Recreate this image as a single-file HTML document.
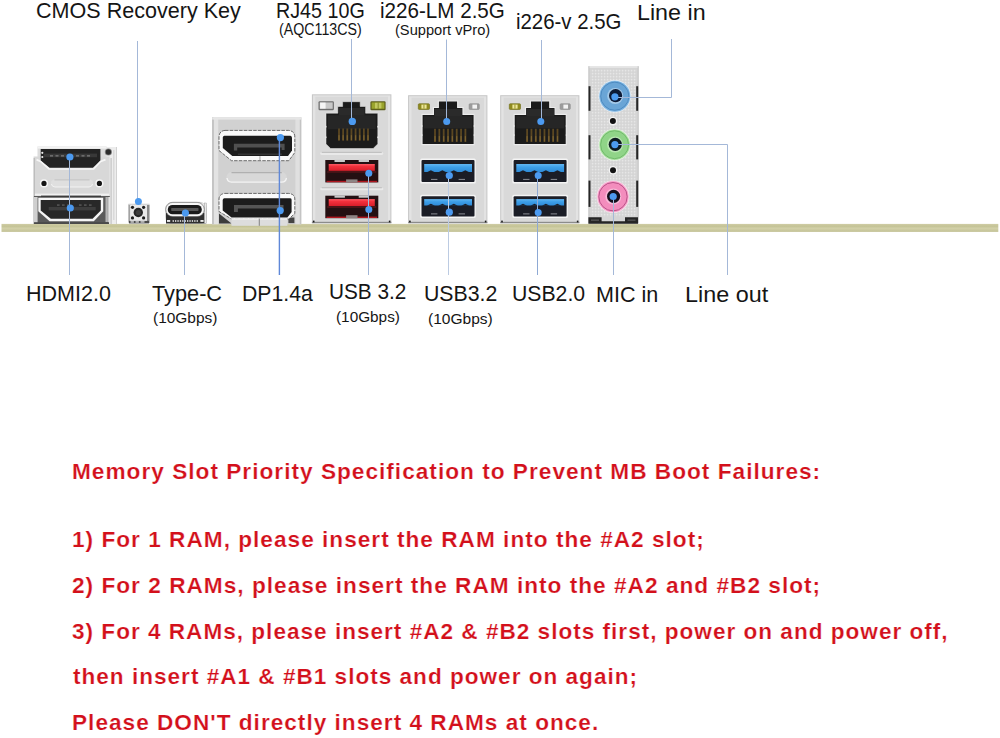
<!DOCTYPE html>
<html>
<head>
<meta charset="utf-8">
<title>IO panel</title>
<style>
html,body{margin:0;padding:0;background:#fff;}
body{width:1000px;height:738px;position:relative;overflow:hidden;font-family:"Liberation Sans",sans-serif;color:#151515;}
.t{position:absolute;white-space:nowrap;line-height:1;transform-origin:0 0;}
svg{position:absolute;left:0;top:0;}
</style>
</head>
<body>
<svg id="gfx" width="1000" height="738" viewBox="0 0 1000 738">
<defs>
<linearGradient id="pcb" x1="0" y1="0" x2="0" y2="1">
<stop offset="0" stop-color="#d0cda5"/><stop offset="0.3" stop-color="#c4c396"/><stop offset="0.55" stop-color="#d2d0a8"/><stop offset="1" stop-color="#c3c296"/>
</linearGradient>
<linearGradient id="shell" x1="0" y1="0" x2="1" y2="0">
<stop offset="0" stop-color="#b9b9b9"/><stop offset="0.04" stop-color="#dcdcdc"/><stop offset="0.95" stop-color="#dedede"/><stop offset="1" stop-color="#bdbdbd"/>
</linearGradient>
<linearGradient id="redt" x1="0" y1="0" x2="0" y2="1">
<stop offset="0" stop-color="#ff5a64"/><stop offset="0.35" stop-color="#f2303c"/><stop offset="1" stop-color="#d81e2a"/>
</linearGradient>
<linearGradient id="bluet" x1="0" y1="0" x2="0" y2="1">
<stop offset="0" stop-color="#62b6f2"/><stop offset="0.4" stop-color="#3d9fe8"/><stop offset="1" stop-color="#2f8bd8"/>
</linearGradient>
<pattern id="dots" x="0" y="0" width="3" height="3" patternUnits="userSpaceOnUse">
<rect width="3" height="3" fill="#d5d5d5"/><rect x="0.8" y="0.8" width="1.6" height="1.6" rx="0.5" fill="#e6e6e6"/>
</pattern>
</defs>
<!-- PCB strip -->
<rect x="1.5" y="223.9" width="996.8" height="8" fill="url(#pcb)"/>
<!--HDMI-->
<g id="hdmi">
<!-- side panel -->
<rect x="106" y="147" width="10.8" height="77" fill="#ededed"/>
<rect x="110.5" y="158" width="1.2" height="66" fill="#c4c4c4"/>
<rect x="113" y="150" width="1.5" height="70" fill="#d9d9d9"/>
<rect x="116" y="147" width="0.9" height="77" fill="#cfcfcf"/>
<!-- main body -->
<rect x="37.5" y="146.4" width="69" height="13" fill="#dcdcdc"/>
<rect x="33.6" y="156.5" width="76" height="67.5" fill="#d8d8d8"/>
<rect x="37.5" y="146.4" width="69" height="2.2" fill="#f3f3f3"/>
<rect x="33.6" y="158" width="1.4" height="38" fill="#bdbdbd"/>
<!-- lower dark region -->
<rect x="33.8" y="196" width="76" height="28" fill="#5a5a5a"/>
<rect x="34" y="197" width="3.6" height="27" fill="#cfcfcf"/>
<rect x="105.5" y="197" width="2.4" height="25" fill="#b5b5b5"/>
<rect x="108.2" y="197" width="1.8" height="27" fill="#e4e4e4"/>
<!-- top port -->
<path d="M40.7 149 L100.4 149 L100.4 160.8 L92.9 167.8 L49.6 167.8 L40.7 160.8 Z" fill="#232323"/>
<rect x="44" y="153.6" width="53" height="3.6" fill="#383838"/>
<g fill="#8e8e8e"><rect x="50" y="155.4" width="3" height="1"/><rect x="55.5" y="155.4" width="3" height="1"/><rect x="61" y="155.4" width="3" height="1"/><rect x="76" y="155.4" width="3" height="1"/><rect x="81.5" y="155.4" width="3" height="1"/><rect x="87" y="155.4" width="3" height="1"/></g>
<circle cx="42.3" cy="152.8" r="1.1" fill="#efefef"/><circle cx="42.3" cy="157" r="1.1" fill="#efefef"/>
<path d="M36.5 159.6 L40.6 161.4 L49 169 L93.6 169 L100.6 161.4 L105.5 159.6" fill="none" stroke="#f6f6f6" stroke-width="1.7"/>
<!-- mid plate -->
<rect x="51" y="179.6" width="42" height="7.5" rx="3.75" fill="#dfdfdf"/>
<path d="M54.5 179.9 L89.5 179.9" stroke="#bdbdbd" stroke-width="0.9" fill="none"/>
<path d="M51.4 184 Q52 186.9 55 187 L89 187 Q92 186.9 92.6 184" stroke="#f2f2f2" stroke-width="1" fill="none"/>
<circle cx="44" cy="183.4" r="4.1" fill="#f5f5f5"/><circle cx="44" cy="183.4" r="2.6" fill="#141414"/>
<circle cx="99.4" cy="183.4" r="4.1" fill="#f5f5f5"/><circle cx="99.4" cy="183.4" r="2.6" fill="#141414"/>
<rect x="35" y="193.6" width="74" height="2" fill="#f1f1f1"/>
<rect x="41" y="195.6" width="60" height="1.6" fill="#3c3c3c"/>
<!-- bottom port -->
<path d="M38.3 197.7 L103.2 197.7 L103.2 211.3 L93.8 221.2 L49.6 221.2 L38.3 211.3 Z" fill="#f6f6f6"/>
<path d="M40.7 200 L100.8 200 L100.8 210.4 L92.6 218.8 L50.8 218.8 L40.7 210.4 Z" fill="#282828"/>
<rect x="48.7" y="207" width="47" height="3.4" fill="#3d3d3d"/>
<g fill="#777"><rect x="57" y="204.6" width="2.6" height="0.9"/><rect x="62" y="204.6" width="2.6" height="0.9"/><rect x="67" y="204.6" width="2.6" height="0.9"/><rect x="79" y="204.6" width="2.6" height="0.9"/><rect x="84" y="204.6" width="2.6" height="0.9"/><rect x="89" y="204.6" width="2.6" height="0.9"/></g>
<rect x="34" y="222.2" width="75" height="1.8" fill="#4a4a4a"/>
<circle cx="108.4" cy="152" r="3.6" fill="#8a8a8a"/><circle cx="108.4" cy="152" r="2.7" fill="#2c2c2c"/>
</g>
<!--BUTTON-->
<g id="btn">
<rect x="128.4" y="203.8" width="21.1" height="19.6" fill="#e9e9e9"/>
<rect x="128.4" y="204.5" width="1.7" height="18" fill="#a2a2a2"/>
<rect x="147" y="205" width="2.5" height="18" fill="#8a8a8a"/>
<rect x="128.4" y="203.8" width="21.1" height="1" fill="#d2d2d2"/>
<rect x="129" y="220.9" width="20" height="2.5" fill="#4a4a4a"/>
<rect x="130.5" y="221.3" width="3.4" height="1.3" fill="#e2e2e2"/><rect x="135.5" y="221.3" width="3.4" height="1.3" fill="#e2e2e2"/><rect x="140.5" y="221.3" width="4" height="1.3" fill="#e2e2e2"/>
<circle cx="132.5" cy="207.3" r="1.6" fill="#1c1c1c"/><circle cx="143.6" cy="207.3" r="1.6" fill="#1c1c1c"/>
<circle cx="132.5" cy="217.9" r="1.6" fill="#1c1c1c"/><circle cx="143.6" cy="217.9" r="1.6" fill="#1c1c1c"/>
<circle cx="138.3" cy="212.5" r="4.7" fill="#262626"/>
<circle cx="138.3" cy="212.5" r="2.6" fill="#3d3d3d"/>
</g>
<!--TYPEC-->
<g id="typec">
<rect x="165.6" y="202.3" width="40.6" height="21.2" rx="6.5" fill="#efefef" stroke="#bdbdbd" stroke-width="0.6"/>
<path d="M166 213 L166 223.6 L205.6 223.6 L205.6 213 Z" fill="#2f2f2f"/>
<rect x="204.3" y="203" width="2.2" height="20.6" fill="#e9e9e9" stroke="#8a8a8a" stroke-width="0.4"/>
<rect x="165.7" y="202.4" width="38.6" height="14.2" rx="7.1" fill="#f7f7f7" stroke="#5c5c5c" stroke-width="0.6"/>
<rect x="167.8" y="205" width="34" height="9.3" rx="4.6" fill="#1a1a1a"/>
<rect x="171.2" y="208" width="27.3" height="2.9" rx="0.6" fill="#565656"/>
<g fill="#ececec"><rect x="167" y="220" width="3.2" height="1.9"/><rect x="172.6" y="220.2" width="1.3" height="1.6"/><rect x="175" y="220.2" width="1.3" height="1.6"/><rect x="177.4" y="220.2" width="1.3" height="1.6"/><rect x="179.8" y="220.2" width="1.3" height="1.6"/><rect x="182.2" y="220.2" width="1.3" height="1.6"/><rect x="184.6" y="220.2" width="1.3" height="1.6"/><rect x="187" y="220.2" width="1.3" height="1.6"/><rect x="189.4" y="220.2" width="1.3" height="1.6"/><rect x="191.8" y="220.2" width="1.3" height="1.6"/><rect x="194.2" y="220.2" width="1.3" height="1.6"/><rect x="196.6" y="220.2" width="1.3" height="1.6"/><rect x="200.4" y="220" width="3.2" height="1.9"/></g>
</g>
<g id="dp">
<rect x="212.2" y="117.2" width="89" height="107" fill="#d1d1d1"/>
<rect x="212.2" y="117.2" width="6" height="107" fill="#e3e3e3"/>
<rect x="212.2" y="117.2" width="1.6" height="107" fill="#bdbdbd"/>
<rect x="295.4" y="117.2" width="5.8" height="107" fill="#e0e0e0"/>
<rect x="299.8" y="117.2" width="1.4" height="107" fill="#c4c4c4"/>
<rect x="212.2" y="117.2" width="89" height="2.4" fill="#e6e6e6"/>
<!-- top port -->
<path d="M225 130.4 L288.5 130.4 Q294.8 131 294.8 137 L294.8 152.5 L288.8 160.7 L231.5 160.7 L219 150.5 L219 137 Q219.3 130.8 225 130.4 Z" fill="#fafafa" stroke="#4a4a4a" stroke-width="0.8" stroke-dasharray="3.5 1.2"/>
<path d="M224.3 135.8 L290.4 135.8 Q292 136 292 138 L292 150.5 L288 155.9 L232.3 155.9 L222.8 148 L222.8 137.6 Q223 136 224.3 135.8 Z" fill="#1c1c1c"/>
<path d="M233.9 143.7 L284.6 143.7 L284.6 150 L281.6 150 L281.6 147.4 L237.2 147.4 L237.2 150.6 L233.9 150.6 Z" fill="#505050"/>
<rect x="238" y="153.6" width="44" height="1.2" fill="#3a3a3a"/>
<rect x="259.5" y="156.2" width="0.9" height="4" fill="#9a9a9a"/>
<!-- middle slot -->
<rect x="226.5" y="172.3" width="60.3" height="10" rx="5" fill="#d8d8d8"/>
<path d="M231.5 172.6 L281.8 172.6" stroke="#b0b0b0" stroke-width="1.1" fill="none"/>
<path d="M227 178 Q227.5 182 231.5 182.1 L281.8 182.1 Q286 182 286.4 178" stroke="#f4f4f4" stroke-width="1.4" fill="none"/>
<!-- bottom port -->
<path d="M219 213.5 L231.5 223.4 L219 223.4 Z" fill="#3c3c3c"/>
<rect x="288.4" y="217.5" width="6" height="5.6" fill="#444"/>
<path d="M225 193.4 L288.5 193.4 Q294.8 194 294.8 199 L294.8 213.5 L288.8 219 L231.5 219 L219 211.5 L219 199 Q219.3 193.8 225 193.4 Z" fill="#fafafa" stroke="#4a4a4a" stroke-width="0.8" stroke-dasharray="3.5 1.2"/>
<path d="M224.3 198.2 L290.4 198.2 Q291.6 198.4 291.6 200 L291.6 212 L287.4 217.4 L231.5 217.4 L222.7 210.5 L222.7 200 Q223 198.4 224.3 198.2 Z" fill="#1c1c1c"/>
<path d="M234 205.1 L283.5 205.1 L283.5 210.5 L281 210.5 L281 208.5 L237.9 208.5 L237.9 212 L234 212 Z" fill="#555"/>
<rect x="231.5" y="218.4" width="55.9" height="7.4" fill="#dddddd"/>
<rect x="231.5" y="218.4" width="55.9" height="1.2" fill="#f4f4f4"/>
<rect x="258.8" y="218.6" width="0.9" height="7.2" fill="#777"/>
</g>

<g id="lan10">
<rect x="311.9" y="94.3" width="79.5" height="128.9" fill="#c6c6c6"/>
<rect x="312.9" y="95.3" width="77.5" height="127.9" fill="#e3e3e3"/>
<rect x="315.29999999999995" y="96.7" width="72.7" height="125.3" fill="#d9d9d9"/>
<rect x="311.9" y="221.8" width="79.5" height="1.4" fill="#8c8c8c"/>
<rect x="312.9" y="220.6" width="1.6" height="1.8" fill="#1a1a1a"/>
<rect x="388.8" y="220.6" width="1.6" height="1.8" fill="#1a1a1a"/>
<rect x="318.5" y="101.2" width="15.4" height="9" rx="1.2" fill="#6e6e6e"/>
<rect x="319.7" y="102.4" width="13.0" height="6.4" fill="#c9c9c9"/>
<rect x="320.1" y="102.60000000000001" width="5.5" height="6.0" fill="#f6f6f6"/>
<rect x="370.4" y="101.2" width="15.2" height="9" rx="1.2" fill="#5e5f1c" />
<rect x="371.6" y="102.4" width="12.8" height="6.4" fill="#9aa42c"/>
<rect x="375.0" y="102.8" width="6.4" height="5.6" fill="#c2c860"/>
<rect x="377.7" y="102.4" width="0.9" height="6.4" fill="#7d8422"/>
<path d="M326 113.2 L337.8 113.2 L337.8 106.5 L342.6 106.5 L342.6 101.7 L360.2 101.7 L360.2 106.5 L365.6 106.5 L365.6 113.2 L377.8 113.2 L377.8 143.9 L373.2 148.5 L330.6 148.5 L326 143.9 Z" fill="#1b1b1b" stroke="#ececec" stroke-width="0.5"/>
<rect x="338.8" y="108.0" width="25.8" height="12.7" fill="#2a2a2a"/>
<rect x="328" y="115.2" width="47.8" height="14.1" fill="#262626"/>
<rect x="325.2" y="125.9" width="1.3" height="1.6" fill="#e9e9e9"/>
<rect x="377.3" y="125.9" width="1.3" height="1.6" fill="#e9e9e9"/>
<rect x="325.2" y="136.5" width="1.3" height="1.6" fill="#e9e9e9"/>
<rect x="377.3" y="136.5" width="1.3" height="1.6" fill="#e9e9e9"/>
<rect x="338.10" y="128.5" width="1.8" height="12.2" fill="#5c4822"/>
<rect x="338.40" y="135.2" width="1.2" height="4.9" fill="#7a6230"/>
<rect x="342.24" y="128.5" width="1.8" height="12.2" fill="#5c4822"/>
<rect x="342.54" y="135.2" width="1.2" height="4.9" fill="#7a6230"/>
<rect x="346.39" y="128.5" width="1.8" height="12.2" fill="#5c4822"/>
<rect x="346.69" y="135.2" width="1.2" height="4.9" fill="#7a6230"/>
<rect x="350.53" y="128.5" width="1.8" height="12.2" fill="#5c4822"/>
<rect x="350.83" y="135.2" width="1.2" height="4.9" fill="#7a6230"/>
<rect x="354.67" y="128.5" width="1.8" height="12.2" fill="#5c4822"/>
<rect x="354.97" y="135.2" width="1.2" height="4.9" fill="#7a6230"/>
<rect x="358.81" y="128.5" width="1.8" height="12.2" fill="#5c4822"/>
<rect x="359.11" y="135.2" width="1.2" height="4.9" fill="#7a6230"/>
<rect x="362.96" y="128.5" width="1.8" height="12.2" fill="#5c4822"/>
<rect x="363.26" y="135.2" width="1.2" height="4.9" fill="#7a6230"/>
<rect x="367.10" y="128.5" width="1.8" height="12.2" fill="#5c4822"/>
<rect x="367.40" y="135.2" width="1.2" height="4.9" fill="#7a6230"/>
<rect x="320.2" y="152.2" width="63.1" height="2.7" rx="1.4" fill="#e9e9e9"/>
<rect x="321.7" y="151.89999999999998" width="60.1" height="0.8" fill="#b3b3b3"/>
<rect x="320.2" y="187.7" width="63.1" height="2.6" rx="1.3" fill="#e9e9e9"/>
<rect x="321.7" y="187.39999999999998" width="60.1" height="0.8" fill="#b3b3b3"/>
<rect x="325.3" y="160" width="53.0" height="22.4" fill="#241012"/>
<rect x="334.5" y="159.8" width="10.4" height="2.2" fill="#c9c9c9"/>
<rect x="358.7" y="159.8" width="10.3" height="2.2" fill="#c9c9c9"/>
<rect x="326.5" y="180.8" width="50.6" height="1.4" fill="#b01820"/>
<rect x="328.7" y="164" width="46.1" height="6.9" fill="url(#redt)"/>
<rect x="327.2" y="170.9" width="49.1" height="2" fill="#4a1518"/>
<rect x="346.1" y="179.4" width="11.4" height="3" fill="#8e8484"/>
<rect x="325.3" y="195.7" width="53.0" height="22.5" fill="#241012"/>
<rect x="334.5" y="195.5" width="10.4" height="2.2" fill="#c9c9c9"/>
<rect x="358.7" y="195.5" width="10.3" height="2.2" fill="#c9c9c9"/>
<rect x="326.5" y="216.6" width="50.6" height="1.4" fill="#b01820"/>
<rect x="328.7" y="199.1" width="46.1" height="6.9" fill="url(#redt)"/>
<rect x="327.2" y="206.0" width="49.1" height="2" fill="#4a1518"/>
<rect x="346.1" y="215.2" width="11.4" height="3" fill="#8e8484"/>
</g>
<g id="lan1">
<rect x="408.1" y="95.2" width="79.3" height="128.0" fill="#c6c6c6"/>
<rect x="409.1" y="96.2" width="77.3" height="127.0" fill="#e3e3e3"/>
<rect x="411.5" y="97.60000000000001" width="72.5" height="124.4" fill="#d9d9d9"/>
<rect x="408.1" y="221.8" width="79.3" height="1.4" fill="#8c8c8c"/>
<rect x="409.1" y="220.6" width="1.6" height="1.8" fill="#1a1a1a"/>
<rect x="484.8" y="220.6" width="1.6" height="1.8" fill="#1a1a1a"/>
<rect x="418.3" y="103.7" width="11.2" height="5.8" rx="1" fill="#8f8a1e" stroke="#6f6b18" stroke-width="0.6"/>
<rect x="421.4" y="104.60000000000001" width="5.2" height="4.0" fill="#ece79a"/>
<rect x="423.5" y="104.60000000000001" width="0.9" height="4.0" fill="#8f8a1e"/>
<rect x="469.1" y="103.7" width="10.2" height="5.8" rx="1" fill="#9c9c9c" stroke="#858585" stroke-width="0.5"/>
<rect x="472.4" y="104.60000000000001" width="4.6" height="4.0" fill="#f3f3f3"/>
<path d="M422 114.3 L433.4 114.3 L433.4 107.5 L438.3 107.5 L438.3 101 L457.7 101 L457.7 107.5 L463 107.5 L463 114.3 L474.2 114.3 L474.2 144.6 L474.2 144.6 L422 144.6 L422 144.6 Z" fill="#1b1b1b" stroke="#ececec" stroke-width="1.2"/>
<rect x="434.4" y="109.0" width="27.6" height="12.8" fill="#2a2a2a"/>
<rect x="424" y="116.3" width="48.2" height="12.1" fill="#262626"/>
<rect x="421.2" y="125.2" width="1.3" height="1.6" fill="#e9e9e9"/>
<rect x="473.7" y="125.2" width="1.3" height="1.6" fill="#e9e9e9"/>
<rect x="421.2" y="134.3" width="1.3" height="1.6" fill="#e9e9e9"/>
<rect x="473.7" y="134.3" width="1.3" height="1.6" fill="#e9e9e9"/>
<rect x="434.10" y="128.8" width="1.8" height="13.2" fill="#5c4822"/>
<rect x="434.40" y="136.1" width="1.2" height="5.3" fill="#7a6230"/>
<rect x="438.44" y="128.8" width="1.8" height="13.2" fill="#5c4822"/>
<rect x="438.74" y="136.1" width="1.2" height="5.3" fill="#7a6230"/>
<rect x="442.79" y="128.8" width="1.8" height="13.2" fill="#5c4822"/>
<rect x="443.09" y="136.1" width="1.2" height="5.3" fill="#7a6230"/>
<rect x="447.13" y="128.8" width="1.8" height="13.2" fill="#5c4822"/>
<rect x="447.43" y="136.1" width="1.2" height="5.3" fill="#7a6230"/>
<rect x="451.47" y="128.8" width="1.8" height="13.2" fill="#5c4822"/>
<rect x="451.77" y="136.1" width="1.2" height="5.3" fill="#7a6230"/>
<rect x="455.81" y="128.8" width="1.8" height="13.2" fill="#5c4822"/>
<rect x="456.11" y="136.1" width="1.2" height="5.3" fill="#7a6230"/>
<rect x="460.16" y="128.8" width="1.8" height="13.2" fill="#5c4822"/>
<rect x="460.46" y="136.1" width="1.2" height="5.3" fill="#7a6230"/>
<rect x="464.50" y="128.8" width="1.8" height="13.2" fill="#5c4822"/>
<rect x="464.80" y="136.1" width="1.2" height="5.3" fill="#7a6230"/>
<rect x="420.2" y="158.4" width="55.6" height="25.1" rx="1.6" fill="#f4f4f4"/>
<rect x="421.5" y="160" width="53.0" height="21.9" rx="1" fill="#1b1d26"/>
<rect x="424.2" y="164" width="47.8" height="8.0" fill="url(#bluet)"/>
<path d="M426.9 172.2 L430.9 170.2 L434.9 172.2 Z" fill="#1b1d26"/>
<path d="M438.4 172.2 L442.4 170.2 L446.4 172.2 Z" fill="#1b1d26"/>
<path d="M449.8 172.2 L453.8 170.2 L457.8 172.2 Z" fill="#1b1d26"/>
<path d="M461.3 172.2 L465.3 170.2 L469.3 172.2 Z" fill="#1b1d26"/>
<rect x="431.0" y="178.9" width="6.4" height="1" fill="#8b8d94"/>
<rect x="458.6" y="178.9" width="6.4" height="1" fill="#8b8d94"/>
<rect x="420.2" y="194.70000000000002" width="55.6" height="23.3" rx="1.6" fill="#f4f4f4"/>
<rect x="421.5" y="196.3" width="53.0" height="20.1" rx="1" fill="#1b1d26"/>
<rect x="424.2" y="199.1" width="47.8" height="6.4" fill="url(#bluet)"/>
<path d="M426.9 205.7 L430.9 203.7 L434.9 205.7 Z" fill="#1b1d26"/>
<path d="M438.4 205.7 L442.4 203.7 L446.4 205.7 Z" fill="#1b1d26"/>
<path d="M449.8 205.7 L453.8 203.7 L457.8 205.7 Z" fill="#1b1d26"/>
<path d="M461.3 205.7 L465.3 203.7 L469.3 205.7 Z" fill="#1b1d26"/>
<rect x="431.0" y="213.4" width="6.4" height="1" fill="#8b8d94"/>
<rect x="458.6" y="213.4" width="6.4" height="1" fill="#8b8d94"/>
</g>
<g id="lan2">
<rect x="500.2" y="95.2" width="79.2" height="128.0" fill="#c6c6c6"/>
<rect x="501.2" y="96.2" width="77.2" height="127.0" fill="#e3e3e3"/>
<rect x="503.59999999999997" y="97.60000000000001" width="72.4" height="124.4" fill="#d9d9d9"/>
<rect x="500.2" y="221.8" width="79.2" height="1.4" fill="#8c8c8c"/>
<rect x="501.2" y="220.6" width="1.6" height="1.8" fill="#1a1a1a"/>
<rect x="576.8" y="220.6" width="1.6" height="1.8" fill="#1a1a1a"/>
<rect x="509.3" y="103.7" width="11.2" height="5.8" rx="1" fill="#8f8a1e" stroke="#6f6b18" stroke-width="0.6"/>
<rect x="512.4" y="104.60000000000001" width="5.2" height="4.0" fill="#ece79a"/>
<rect x="514.5" y="104.60000000000001" width="0.9" height="4.0" fill="#8f8a1e"/>
<rect x="560.1" y="103.7" width="10.2" height="5.8" rx="1" fill="#9c9c9c" stroke="#858585" stroke-width="0.5"/>
<rect x="563.4" y="104.60000000000001" width="4.6" height="4.0" fill="#f3f3f3"/>
<path d="M514.1 114.3 L525.5 114.3 L525.5 107.5 L530.4 107.5 L530.4 101 L549.8 101 L549.8 107.5 L555.1 107.5 L555.1 114.3 L566.3 114.3 L566.3 144.6 L566.3 144.6 L514.1 144.6 L514.1 144.6 Z" fill="#1b1b1b" stroke="#ececec" stroke-width="1.2"/>
<rect x="526.5" y="109.0" width="27.6" height="12.8" fill="#2a2a2a"/>
<rect x="516.1" y="116.3" width="48.2" height="12.1" fill="#262626"/>
<rect x="513.3000000000001" y="125.2" width="1.3" height="1.6" fill="#e9e9e9"/>
<rect x="565.8" y="125.2" width="1.3" height="1.6" fill="#e9e9e9"/>
<rect x="513.3000000000001" y="134.3" width="1.3" height="1.6" fill="#e9e9e9"/>
<rect x="565.8" y="134.3" width="1.3" height="1.6" fill="#e9e9e9"/>
<rect x="526.20" y="128.8" width="1.8" height="13.2" fill="#5c4822"/>
<rect x="526.50" y="136.1" width="1.2" height="5.3" fill="#7a6230"/>
<rect x="530.54" y="128.8" width="1.8" height="13.2" fill="#5c4822"/>
<rect x="530.84" y="136.1" width="1.2" height="5.3" fill="#7a6230"/>
<rect x="534.89" y="128.8" width="1.8" height="13.2" fill="#5c4822"/>
<rect x="535.19" y="136.1" width="1.2" height="5.3" fill="#7a6230"/>
<rect x="539.23" y="128.8" width="1.8" height="13.2" fill="#5c4822"/>
<rect x="539.53" y="136.1" width="1.2" height="5.3" fill="#7a6230"/>
<rect x="543.57" y="128.8" width="1.8" height="13.2" fill="#5c4822"/>
<rect x="543.87" y="136.1" width="1.2" height="5.3" fill="#7a6230"/>
<rect x="547.91" y="128.8" width="1.8" height="13.2" fill="#5c4822"/>
<rect x="548.21" y="136.1" width="1.2" height="5.3" fill="#7a6230"/>
<rect x="552.26" y="128.8" width="1.8" height="13.2" fill="#5c4822"/>
<rect x="552.56" y="136.1" width="1.2" height="5.3" fill="#7a6230"/>
<rect x="556.60" y="128.8" width="1.8" height="13.2" fill="#5c4822"/>
<rect x="556.90" y="136.1" width="1.2" height="5.3" fill="#7a6230"/>
<rect x="512.3000000000001" y="158.4" width="55.6" height="25.1" rx="1.6" fill="#f4f4f4"/>
<rect x="513.6" y="160" width="53.0" height="21.9" rx="1" fill="#1b1d26"/>
<rect x="516.3" y="164" width="47.8" height="8.0" fill="url(#bluet)"/>
<path d="M519.0 172.2 L523.0 170.2 L527.0 172.2 Z" fill="#1b1d26"/>
<path d="M530.5 172.2 L534.5 170.2 L538.5 172.2 Z" fill="#1b1d26"/>
<path d="M541.9 172.2 L545.9 170.2 L549.9 172.2 Z" fill="#1b1d26"/>
<path d="M553.4 172.2 L557.4 170.2 L561.4 172.2 Z" fill="#1b1d26"/>
<rect x="523.1" y="178.9" width="6.4" height="1" fill="#8b8d94"/>
<rect x="550.7" y="178.9" width="6.4" height="1" fill="#8b8d94"/>
<rect x="512.3000000000001" y="194.70000000000002" width="55.6" height="23.3" rx="1.6" fill="#f4f4f4"/>
<rect x="513.6" y="196.3" width="53.0" height="20.1" rx="1" fill="#1b1d26"/>
<rect x="516.3" y="199.1" width="47.8" height="6.4" fill="url(#bluet)"/>
<path d="M519.0 205.7 L523.0 203.7 L527.0 205.7 Z" fill="#1b1d26"/>
<path d="M530.5 205.7 L534.5 203.7 L538.5 205.7 Z" fill="#1b1d26"/>
<path d="M541.9 205.7 L545.9 203.7 L549.9 205.7 Z" fill="#1b1d26"/>
<path d="M553.4 205.7 L557.4 203.7 L561.4 205.7 Z" fill="#1b1d26"/>
<rect x="523.1" y="213.4" width="6.4" height="1" fill="#8b8d94"/>
<rect x="550.7" y="213.4" width="6.4" height="1" fill="#8b8d94"/>
</g>



<g id="audio">
<rect x="588.5" y="66.2" width="50" height="157.4" fill="#d5d5d5"/>
<rect x="590.6" y="69" width="45.6" height="148" fill="url(#dots)"/>
<rect x="588.5" y="66.2" width="50" height="1.6" fill="#e8e8e8"/>
<rect x="588.5" y="66.2" width="0.9" height="157" fill="#c2c2c2"/><rect x="637.7" y="66.2" width="0.9" height="157" fill="#c2c2c2"/>
<g fill="#262626">
<rect x="588.5" y="86.2" width="2" height="24.6"/><rect x="636.2" y="86.2" width="2" height="24.6"/>
<rect x="588.5" y="135.2" width="2" height="24.2"/><rect x="636.2" y="135.2" width="2" height="24.2"/>
<rect x="588.5" y="180.6" width="2" height="26.3"/><rect x="636.2" y="180.6" width="2" height="26.3"/>
</g>
<path d="M588.4 217.2 L601.6 217.2 L601.6 221.3 L625 221.3 L625 217.2 L638 217.2 L638 223.8 L588.4 223.8 Z" fill="#262626"/>
<rect x="591" y="219.4" width="8" height="1.6" fill="#4d4d4d"/><rect x="627.5" y="219.4" width="8" height="1.6" fill="#4d4d4d"/>
<!-- blue jack -->
<circle cx="614.8" cy="96.2" r="16.2" fill="#e4eff9"/>
<circle cx="614.8" cy="96.2" r="15.5" fill="#7db4e0"/>
<circle cx="614.8" cy="96.2" r="14.1" fill="#6aa5d6" stroke="#3f7db6" stroke-width="0.7"/>
<circle cx="615.2" cy="96" r="8" fill="#a4c9e8"/>
<circle cx="615.6" cy="95.7" r="6.6" fill="#0c1a36"/>
<!-- small holes -->
<circle cx="612.9" cy="121.1" r="4.3" fill="#f4f4f4"/><circle cx="612.9" cy="121.1" r="3" fill="#121212"/>
<circle cx="613" cy="170.3" r="4.3" fill="#f4f4f4"/><circle cx="613" cy="170.3" r="3" fill="#121212"/>
<!-- green jack -->
<circle cx="614.6" cy="144.7" r="16" fill="#e9f6e6"/>
<circle cx="614.6" cy="144.7" r="15.3" fill="#a8de9f"/>
<circle cx="614.6" cy="144.7" r="14" fill="#90d488" stroke="#5fae5a" stroke-width="0.7"/>
<circle cx="615" cy="144.5" r="8" fill="#b9e6b2"/>
<circle cx="615.3" cy="144.3" r="6.6" fill="#0e1a22"/>
<!-- pink jack -->
<circle cx="613" cy="196.7" r="16.3" fill="#fbe6f0"/>
<circle cx="613" cy="196.7" r="15.6" fill="#f7a3cb"/>
<circle cx="613" cy="196.7" r="14.2" fill="#f38dbd" stroke="#ab4079" stroke-width="0.8"/>
<circle cx="613.3" cy="196.5" r="8" fill="#f9b9d8"/>
<circle cx="613.6" cy="196.3" r="6.6" fill="#140f1c"/>
</g>

<g id="lines" fill="none" stroke="#a4b8d8" stroke-width="1">
<path d="M69.5 157 L69.5 275"/>
<path d="M137.5 41 L137.5 201"/>
<path d="M184.5 213 L184.5 275"/>
<path d="M279.4 138 L279.4 275" stroke="#5f88d8" stroke-width="1.4"/>
<path d="M351.5 39 L351.5 122"/>
<path d="M368.5 172.8 L368.5 275"/>
<path d="M446.5 39.5 L446.5 121.6"/>
<path d="M448.5 175.4 L448.5 275" stroke="#bccbe2"/>
<path d="M541.5 40 L541.5 121.6"/>
<path d="M537.5 175.4 L537.5 275" stroke="#8ea9d4"/>
<path d="M614.9 97.5 L671.5 97.5 L671.5 39"/>
<path d="M614.9 144.5 L727.5 144.5 L727.5 275"/>
<path d="M613.5 196.5 L613.5 275"/>
</g>
<g id="cdots" fill="#4c9af0">
<circle cx="69.9" cy="157" r="3.6"/><circle cx="70.3" cy="208" r="3.6"/>
<circle cx="138.4" cy="201.5" r="3.5"/>
<circle cx="185.4" cy="213" r="3.6"/>
<circle cx="280.4" cy="137.6" r="3.6"/><circle cx="280.2" cy="210.6" r="3.6"/>
<circle cx="352.3" cy="121.4" r="3.7"/><circle cx="368.8" cy="173.2" r="3.5"/><circle cx="368.8" cy="209.4" r="3.5"/>
<circle cx="446.7" cy="121.6" r="3.5"/><circle cx="449.3" cy="175.5" r="3.6"/><circle cx="449.3" cy="212.2" r="3.6"/>
<circle cx="540.8" cy="121.6" r="3.5"/><circle cx="538.2" cy="175.4" r="3.5"/><circle cx="538.2" cy="212.6" r="3.5"/>
<circle cx="614.9" cy="96.8" r="3.6"/><circle cx="614.9" cy="144.6" r="3.6"/><circle cx="613.2" cy="196.5" r="3.6"/>
</g>

</svg>

<div class="t" style="left:35.82px;top:0.00px;font-size:22.0px;transform:scaleX(0.9798);">CMOS Recovery Key</div>
<div class="t" style="left:275.81px;top:0.00px;font-size:22.0px;transform:scaleX(0.8958);">RJ45 10G</div>
<div class="t" style="left:279.41px;top:22.00px;font-size:16.0px;transform:scaleX(0.8890);">(AQC113CS)</div>
<div class="t" style="left:380.36px;top:0.00px;font-size:22.0px;transform:scaleX(0.9366);">i226-LM 2.5G</div>
<div class="t" style="left:394.86px;top:22.00px;font-size:15.5px;transform:scaleX(0.9444);">(Support vPro)</div>
<div class="t" style="left:516.15px;top:12.00px;font-size:21.5px;transform:scaleX(0.9486);">i226-v 2.5G</div>
<div class="t" style="left:636.73px;top:2.00px;font-size:22.5px;transform:scaleX(1.0349);">Line in</div>
<div class="t" style="left:26.49px;top:283.00px;font-size:22.5px;transform:scaleX(0.9558);">HDMI2.0</div>
<div class="t" style="left:151.60px;top:283.00px;font-size:22.5px;transform:scaleX(0.9662);">Type-C</div>
<div class="t" style="left:152.80px;top:310.00px;font-size:15.5px;transform:scaleX(0.9968);">(10Gbps)</div>
<div class="t" style="left:242.31px;top:283.00px;font-size:22.5px;transform:scaleX(0.9438);">DP1.4a</div>
<div class="t" style="left:328.85px;top:281.00px;font-size:22.5px;transform:scaleX(0.9235);">USB 3.2</div>
<div class="t" style="left:335.61px;top:309.00px;font-size:15.5px;transform:scaleX(0.9889);">(10Gbps)</div>
<div class="t" style="left:424.11px;top:283.00px;font-size:22.5px;transform:scaleX(0.9459);">USB3.2</div>
<div class="t" style="left:428.30px;top:311.00px;font-size:15.5px;transform:scaleX(1.0016);">(10Gbps)</div>
<div class="t" style="left:512.07px;top:283.00px;font-size:22.0px;transform:scaleX(0.9644);">USB2.0</div>
<div class="t" style="left:596.48px;top:284.00px;font-size:22.5px;transform:scaleX(0.9581);">MIC in</div>
<div class="t" style="left:684.72px;top:284.00px;font-size:22.5px;transform:scaleX(1.0385);">Line out</div>
<div class="t" style="left:72.29px;top:461.00px;font-size:22.5px;transform:scaleX(1.0064);font-weight:bold;color:#d3101b;letter-spacing:1px;-webkit-text-stroke:0.2px #fff;">Memory Slot Priority Specification to Prevent MB Boot Failures:</div>
<div class="t" style="left:72.29px;top:529.00px;font-size:22.5px;transform:scaleX(1.0059);font-weight:bold;color:#d3101b;letter-spacing:1px;-webkit-text-stroke:0.2px #fff;">1) For 1 RAM, please insert the RAM into the #A2 slot;</div>
<div class="t" style="left:72.29px;top:575.00px;font-size:22.5px;transform:scaleX(1.0064);font-weight:bold;color:#d3101b;letter-spacing:1px;-webkit-text-stroke:0.2px #fff;">2) For 2 RAMs, please insert the RAM into the #A2 and #B2 slot;</div>
<div class="t" style="left:72.30px;top:621.00px;font-size:22.5px;transform:scaleX(1.0031);font-weight:bold;color:#d3101b;letter-spacing:1px;-webkit-text-stroke:0.2px #fff;">3) For 4 RAMs, please insert #A2 &amp; #B2 slots first, power on and power off,</div>
<div class="t" style="left:73.30px;top:666.00px;font-size:22.5px;transform:scaleX(1.0030);font-weight:bold;color:#d3101b;letter-spacing:1px;-webkit-text-stroke:0.2px #fff;">then insert #A1 &amp; #B1 slots and power on again;</div>
<div class="t" style="left:72.29px;top:712.00px;font-size:22.5px;transform:scaleX(1.0052);font-weight:bold;color:#d3101b;letter-spacing:1px;-webkit-text-stroke:0.2px #fff;">Please DON'T directly insert 4 RAMs at once.</div>
</body>
</html>
